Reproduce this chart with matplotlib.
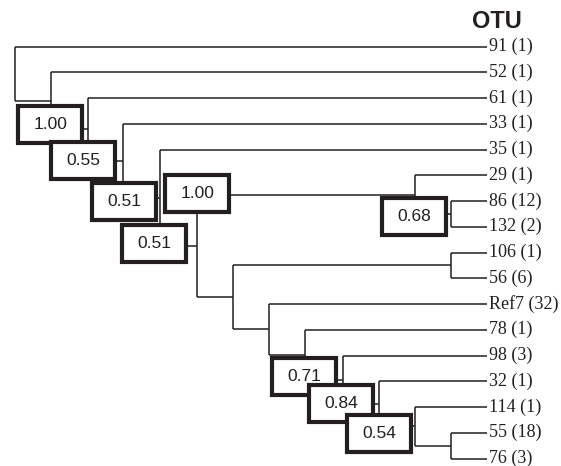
import matplotlib
matplotlib.use("Agg")
import matplotlib.pyplot as plt
from matplotlib.patches import Rectangle

# ---------------- data ----------------
leaf_labels = ["91 (1)", "52 (1)", "61 (1)", "33 (1)", "35 (1)", "29 (1)",
               "86 (12)", "132 (2)", "106 (1)", "56 (6)", "Ref7 (32)",
               "78 (1)", "98 (3)", "32 (1)", "114 (1)", "55 (18)", "76 (3)"]
leaf_depth = 487

# internal nodes: name, children (leaf index or node name), depth
node_names = ["n86_132", "n29", "n106_56", "n55_76", "n114", "n32", "n98",
              "n78", "nRef7", "nLow", "nMid", "n35", "n33", "n61", "n52", "root"]
node_children = [[6, 7], [5, "n86_132"], [8, 9], [15, 16], [14, "n55_76"],
                 [13, "n114"], [12, "n32"], [11, "n98"], [10, "n78"],
                 ["n106_56", "nRef7"], ["n29", "nLow"], [4, "nMid"],
                 [3, "n35"], [2, "n33"], [1, "n61"], [0, "n52"]]
node_depth = [451, 415, 451, 451, 415, 379, 343, 305, 269, 233, 197, 160,
              123, 88, 51, 15]

support_nodes = ["n61", "n33", "n35", "nMid", "n29", "n86_132", "n98", "n32", "n114"]
support_values = ["1.00", "0.55", "0.51", "0.51", "1.00", "0.68", "0.71", "0.84", "0.54"]

header = "OTU"

# ---------------- layout ----------------
# small nudges (pixels) of the support boxes relative to their branch origin
box_dx = [-0.5, -4.5, 1, -5.5, 0.5, -1, -0.5, -1.5, 0]
box_dy = [-5, 0, 3.5, -2.5, -1, 2.5, -3.5, -0.5, 7.5]

W, H = 561, 466
fig = plt.figure(figsize=(W / 100, H / 100), dpi=100)
ax = fig.add_axes([0, 0, 1, 1])
y0, dy = 46.5, 25.75
ax.set_xlim(0, W)
ax.set_ylim((H - y0) / dy, -y0 / dy)
ax.axis("off")

ink = "#231f20"
lw = 1.1

children = dict(zip(node_names, node_children))
depth = dict(zip(node_names, node_depth))
parent = {}
for n, ch in children.items():
    for c in ch:
        parent[c] = n

ypos = {}
def get_y(c):
    if isinstance(c, int):
        return float(c)
    if c in ypos:
        return ypos[c]
    ys = [get_y(k) for k in children[c]]
    ypos[c] = sum(ys) / len(ys)
    return ypos[c]

def get_x(c):
    return leaf_depth if isinstance(c, int) else depth[c]

for n in node_names:
    x = depth[n]
    ys = [get_y(k) for k in children[n]]
    ax.plot([x, x], [min(ys), max(ys)], color=ink, lw=lw, solid_capstyle="butt", zorder=1)
    for k in children[n]:
        ax.plot([x, get_x(k)], [get_y(k), get_y(k)], color=ink, lw=lw,
                solid_capstyle="butt", zorder=1)

for i, lab in enumerate(leaf_labels):
    ax.text(leaf_depth + 2, i, lab, family="Liberation Serif", fontsize=13,
            color=ink, va="center", ha="left")

ax.text(497, (21 - y0) / dy, header, family="Liberation Sans", fontweight="bold",
        fontsize=17, color=ink, ha="center", va="center")

bw, bh = 64, 37 / dy
for j, (n, v) in enumerate(zip(support_nodes, support_values)):
    cx = depth[parent[n]] + box_dx[j]
    cy = get_y(n) + box_dy[j] / dy
    ax.add_patch(Rectangle((cx - bw / 2, cy - bh / 2), bw, bh, facecolor="white",
                           edgecolor=ink, lw=3.0, zorder=3 + j * 0.01))
    ax.text(cx, cy, v, family="Liberation Sans", fontsize=12.5, color=ink,
            ha="center", va="center", zorder=3.005 + j * 0.01)

fig.savefig("out.png", dpi=100)
